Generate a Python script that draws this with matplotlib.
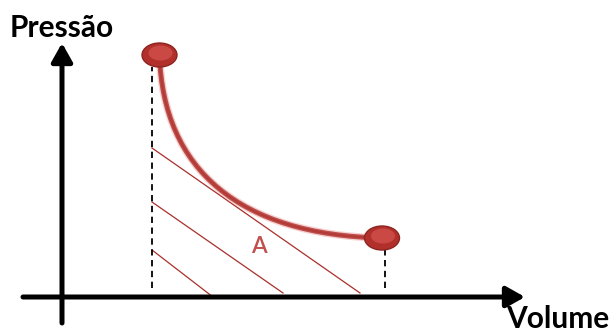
import matplotlib
matplotlib.use("Agg")
import matplotlib.pyplot as plt
from matplotlib.patches import Ellipse, PathPatch
from matplotlib.path import Path

# ---- data (diagram units: origin at the axes crossing) ----
axis_x_label = "Volume"
axis_y_label = "Pressão"
area_label = "A"

state_V = [97.5, 320.0]          # initial / final state (volume)
state_P = [242.0, 59.0]          # initial / final state (pressure)

curve_V = [97.5, 101.0, 178.0, 320.0]   # Bezier control points of the P-V curve
curve_P = [242.0, 127.0, 62.0, 59.0]

dash_V = [90.0, 323.0]           # vertical dashed guides
dash_P_top = [230.0, 47.0]
dash_P_bot = [9.0, 9.0]

hatch_V0 = [90.0, 90.0, 90.0]
hatch_P0 = [149.0, 95.0, 47.0]
hatch_V1 = [298.0, 221.0, 151.0]
hatch_P1 = [4.0, 4.0, 0.0]

x_axis_range = [-39.0, 463.0]
y_axis_range = [-26.0, 254.0]

RED = "#c0504d"
DARK_RED = "#a8302c"

fig = plt.figure(figsize=(6.14, 3.32), dpi=100)
ax = fig.add_axes([0, 0, 1, 1])
ax.set_xlim(-62, 552)
ax.set_ylim(-35, 297)
ax.axis("off")

# axes arrows
arrow_kw = dict(arrowstyle="-|>,head_length=0.8,head_width=0.45", lw=3.6,
                color="black", mutation_scale=14, shrinkA=0, shrinkB=0)
ax.annotate("", xy=(x_axis_range[1], 0), xytext=(x_axis_range[0], 0),
            arrowprops=arrow_kw, zorder=5)
ax.annotate("", xy=(0, y_axis_range[1]), xytext=(0, y_axis_range[0]),
            arrowprops=arrow_kw, zorder=5)

# hatch lines
for v0, p0, v1, p1 in zip(hatch_V0, hatch_P0, hatch_V1, hatch_P1):
    ax.plot([v0, v1], [p0, p1], color=DARK_RED, lw=0.9, zorder=2)

# dashed guides
for v, pt, pb in zip(dash_V, dash_P_top, dash_P_bot):
    ax.plot([v, v], [pb, pt], color="black", lw=1.3, ls=(0, (3.5, 2.5)), zorder=3)

# curve (Bezier)
verts = list(zip(curve_V, curve_P))
codes = [Path.MOVETO, Path.CURVE4, Path.CURVE4, Path.CURVE4]
path = Path(verts, codes)
ax.add_patch(PathPatch(path, fc="none", ec="#efb8b4", lw=5.5, alpha=0.6, zorder=3))
ax.add_patch(PathPatch(path, fc="none", ec=RED, lw=3.6, zorder=4))
ax.add_patch(PathPatch(path, fc="none", ec="#b43c38", lw=1.8, zorder=4))

# state points
for v, p in zip(state_V, state_P):
    ax.add_patch(Ellipse((v, p), 35, 24, fc="#b2302c", ec="#8e2420", lw=1.0, zorder=6))
    ax.add_patch(Ellipse((v + 1, p + 2), 24, 15, fc="#d2504b", ec="none", alpha=0.8, zorder=7))

# labels
ax.text(-52, 260, axis_y_label, fontfamily="Lato", fontweight="bold",
        fontsize=21.5, color="black", va="baseline", ha="left")
ax.text(444, -31, axis_x_label, fontfamily="Lato", fontweight="bold",
        fontsize=21.5, color="black", va="baseline", ha="left")
ax.text(197, 44, area_label, fontfamily="Lato", fontweight="semibold", fontsize=16.5,
        color=RED, va="baseline", ha="center")

fig.savefig("out.png", dpi=100)
